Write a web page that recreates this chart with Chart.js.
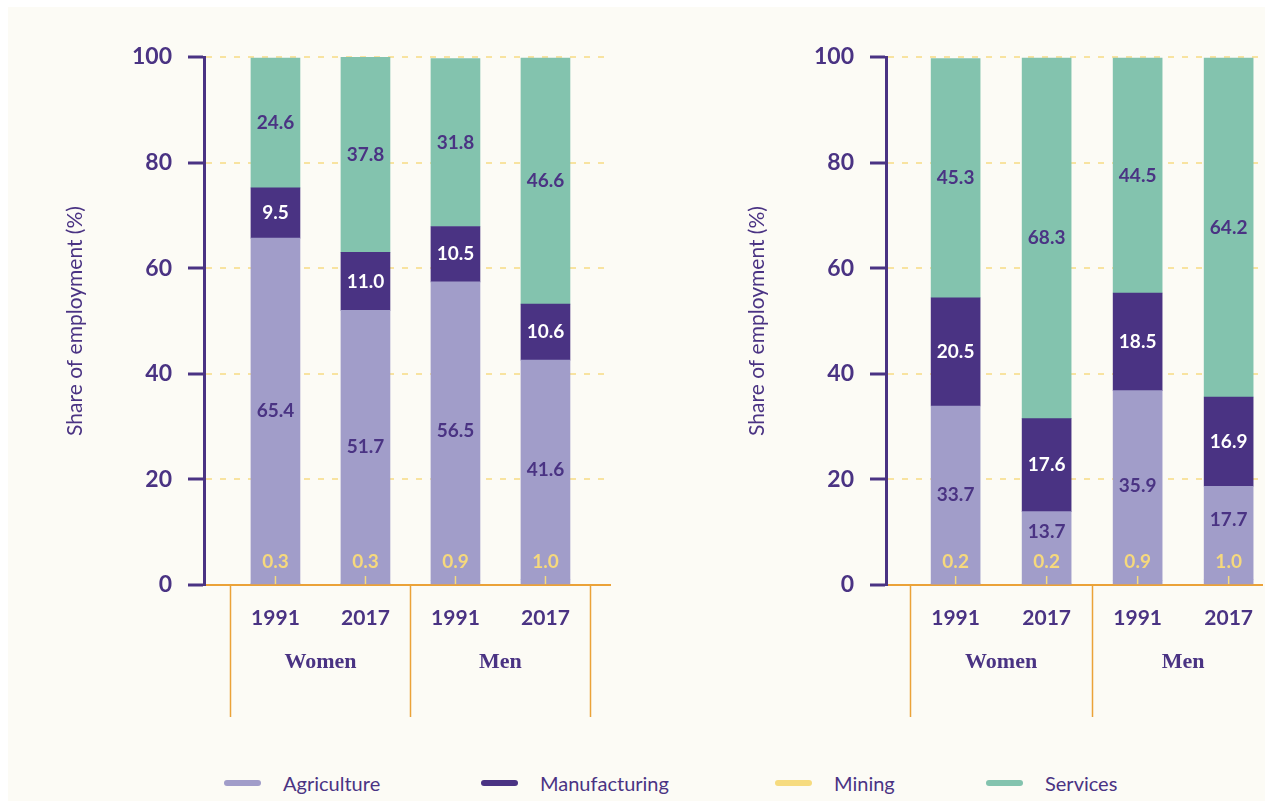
<!DOCTYPE html>
<html>
<head>
<meta charset="utf-8">
<script src="https://cdn.jsdelivr.net/npm/chart.js@4.4.1/dist/chart.umd.min.js"></script>
<style>
  body { margin: 0; background: #ffffff; font-family: Lato, sans-serif; }
  #panel { position: absolute; left: 8px; top: 7px; width: 1257px; height: 794px; background: #fcfbf5; overflow: hidden; }
  #leftChart { position: absolute; left: 0; top: 0; }
  #rightChart { position: absolute; left: 682px; top: 0; }
  .leg { position: absolute; top: 764px; height: 24px; display: flex; align-items: center; color: #4a3383; font-size: 20px; }
  .leg span.sw { display: inline-block; width: 37px; height: 6px; border-radius: 3px; margin-right: 22px; }
</style>
</head>
<body>
<div id="panel">
  <canvas id="leftChart" width="642" height="733"></canvas>
  <canvas id="rightChart" width="584" height="733"></canvas>
</div>
<script>
const years = ['1991', '2017', '1991', '2017'];
const groups = ['Women', 'Men'];
const yTicks = [0, 20, 40, 60, 80, 100];

// stack order bottom -> top
const seriesNames = ['Mining', 'Agriculture', 'Manufacturing', 'Services'];
const seriesColors = ['#f6db7f', '#a19dc9', '#4a3383', '#83c3ae'];
const labelColors = ['#f6d97c', '#4a3383', '#ffffff', '#4a3383'];

// left panel
const leftMining = [0.3, 0.3, 0.9, 1.0];
const leftAgriculture = [65.4, 51.7, 56.5, 41.6];
const leftManufacturing = [9.5, 11.0, 10.5, 10.6];
const leftServices = [24.6, 37.8, 31.8, 46.6];

// right panel
const rightMining = [0.2, 0.2, 0.9, 1.0];
const rightAgriculture = [33.7, 13.7, 35.9, 17.7];
const rightManufacturing = [20.5, 17.6, 18.5, 16.9];
const rightServices = [45.3, 68.3, 44.5, 64.2];

const legendOrder = ['Agriculture', 'Manufacturing', 'Mining', 'Services'];

const purple = '#4a3383';
const orange = '#eba238';
const gridYellow = '#f8e3a0';

// value labels, mining leader lines
const valueLabels = {
  id: 'valueLabels',
  afterDatasetsDraw(chart) {
    const ctx = chart.ctx;
    const area = chart.chartArea;
    const zero = chart.scales.y.getPixelForValue(0);
    ctx.save();
    ctx.font = 'bold 19px Lato';
    ctx.textAlign = 'center';
    ctx.textBaseline = 'middle';
    chart.data.datasets.forEach((ds, di) => {
      const meta = chart.getDatasetMeta(di);
      meta.data.forEach((bar, i) => {
        const v = ds.data[i];
        const top = Math.max(bar.y, area.top);
        let y = (top + bar.base) / 2;
        if (ds.label === 'Mining') {
          ctx.strokeStyle = seriesColors[di];
          ctx.lineWidth = 1.5;
          ctx.beginPath();
          ctx.moveTo(bar.x, zero - 1);
          ctx.lineTo(bar.x, zero - 9);
          ctx.stroke();
          y = zero - 23;
        } else if (ds.label === 'Agriculture' && v < 20) {
          y = (top + zero - 32) / 2;
        }
        ctx.fillStyle = labelColors[di];
        ctx.fillText(v.toFixed(1), bar.x, y);
      });
    });
    ctx.restore();
  },
  afterDraw(chart) {
    // group separators and group names under the x axis
    const ctx = chart.ctx;
    const x = chart.scales.x;
    const bottom = chart.chartArea.bottom;
    ctx.save();
    ctx.strokeStyle = orange;
    ctx.lineWidth = 1.5;
    [-0.5, 1.5, 3.5].forEach(v => {
      const px = Math.round(x.getPixelForValue(v)) + 0.5;
      ctx.beginPath();
      ctx.moveTo(px, bottom);
      ctx.lineTo(px, bottom + 132);
      ctx.stroke();
    });
    ctx.fillStyle = purple;
    ctx.font = 'bold 22px "Liberation Serif"';
    ctx.textAlign = 'center';
    ctx.textBaseline = 'middle';
    groups.forEach((g, gi) => {
      ctx.fillText(g, x.getPixelForValue(gi * 2 + 0.5), bottom + 77);
    });
    ctx.restore();
  }
};

function makeChart(id, values, xMin, xMax, padRight) {
  return new Chart(document.getElementById(id), {
    type: 'bar',
    data: {
      labels: years.map((_, i) => i),
      datasets: seriesNames.map((name, i) => ({
        label: name,
        data: values[i],
        // the thin mining slice sits inside the agriculture bar, shown by its leader label
        backgroundColor: name === 'Mining' ? seriesColors[1] : seriesColors[i],
        borderWidth: 0,
        barThickness: 49
      }))
    },
    options: {
      responsive: false,
      animation: false,
      layout: { padding: { top: 50, right: padRight, bottom: 0, left: 0 } },
      plugins: { legend: { display: false }, tooltip: { enabled: false } },
      scales: {
        x: {
          type: 'linear',
          stacked: true,
          offset: false,
          min: xMin,
          max: xMax,
          z: 1,
          grid: { display: false, drawTicks: false, offset: false },
          border: { color: orange, width: 2 },
          afterDataLimits: s => { s.min = xMin; s.max = xMax; },
          afterBuildTicks: s => { s.ticks = years.map((_, i) => ({ value: i })); },
          ticks: {
            callback: (v, i) => years[i],
            color: purple,
            font: { family: 'Lato', size: 21, weight: 'bold' },
            padding: 21,
            autoSkip: false,
            maxRotation: 0
          },
          afterFit: s => { s.height = 155; }
        },
        y: {
          stacked: true,
          min: 0,
          max: 100,
          afterBuildTicks: s => { s.ticks = yTicks.map(v => ({ value: v })); },
          grid: { color: gridYellow, lineWidth: 2, tickLength: 16, tickColor: purple, tickWidth: 3 },
          border: { color: purple, width: 3, dash: [6, 8] },
          ticks: {
            color: purple,
            font: { family: 'Lato', size: 23, weight: 'bold' },
            padding: 16
          },
          title: {
            display: true,
            text: 'Share of employment (%)',
            color: purple,
            font: { family: 'Lato', size: 21 },
            padding: { top: 55, bottom: 0 }
          },
          afterFit: s => { s.width = 196; }
        }
      }
    },
    plugins: [valueLabels]
  });
}

makeChart('leftChart', [leftMining, leftAgriculture, leftManufacturing, leftServices], -0.794, 3.717, 40);
makeChart('rightChart', [rightMining, rightAgriculture, rightManufacturing, rightServices], -0.765, 3.377, 0);

// legend
const legendX = [216, 473, 767, 978];
const panel = document.getElementById('panel');
legendOrder.forEach((name, i) => {
  const item = document.createElement('div');
  item.className = 'leg';
  item.style.left = legendX[i] + 'px';
  const sw = document.createElement('span');
  sw.className = 'sw';
  sw.style.background = seriesColors[seriesNames.indexOf(name)];
  item.appendChild(sw);
  item.appendChild(document.createTextNode(name));
  panel.appendChild(item);
});
</script>
</body>
</html>
